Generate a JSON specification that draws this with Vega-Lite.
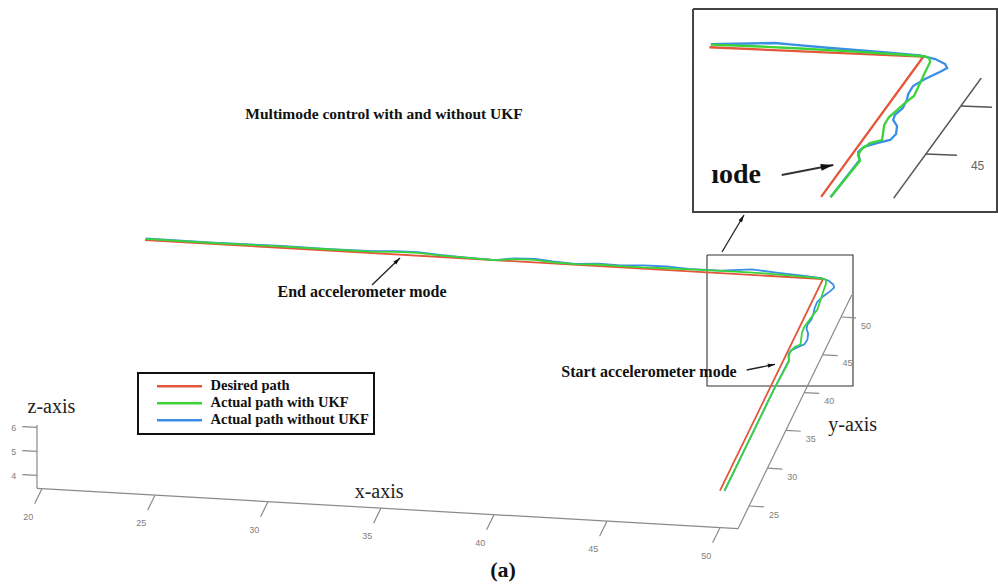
{
  "$schema": "https://vega.github.io/schema/vega-lite/v6.json",
  "width": 998,
  "height": 584,
  "autosize": "none",
  "padding": 0,
  "background": "white",
  "config": {
    "view": {"stroke": null},
    "legend": {
      "orient": "none",
      "legendX": 138,
      "legendY": 373,
      "direction": "vertical",
      "symbolType": "stroke",
      "symbolSize": 2025,
      "symbolStrokeWidth": 2.5,
      "clipHeight": 16.4,
      "symbolOffset": 12.5,
      "labelOffset": 7,
      "labelFont": "Liberation Serif",
      "labelFontWeight": "bold",
      "labelFontSize": 14.5,
      "labelColor": "#111",
      "labelLimit": 0,
      "padding": 5,
      "rowPadding": 0,
      "strokeColor": "#111",
      "strokeWidth": 2,
      "fillColor": "white"
    }
  },
  "datasets": {
    "paths": [
      {"s": "Desired path", "i": 0, "x": 20, "y": 50, "z": 5},
      {"s": "Desired path", "i": 1, "x": 45.45, "y": 50, "z": 5},
      {"s": "Desired path", "i": 2, "x": 50, "y": 50, "z": 5},
      {"s": "Desired path", "i": 3, "x": 50, "y": 35.4, "z": 5},
      {"s": "Desired path", "i": 4, "x": 50, "y": 22, "z": 5},

      {"s": "Actual path with UKF", "i": 0, "x": 20, "y": 50.15, "z": 5},
      {"s": "Actual path with UKF", "i": 1, "x": 23, "y": 50.12, "z": 5},
      {"s": "Actual path with UKF", "i": 2, "x": 26, "y": 50.18, "z": 5},
      {"s": "Actual path with UKF", "i": 3, "x": 28, "y": 50.15, "z": 5},
      {"s": "Actual path with UKF", "i": 4, "x": 30, "y": 50.18, "z": 5},
      {"s": "Actual path with UKF", "i": 5, "x": 31, "y": 50.32, "z": 5},
      {"s": "Actual path with UKF", "i": 6, "x": 32, "y": 50.35, "z": 5},
      {"s": "Actual path with UKF", "i": 7, "x": 33, "y": 50.2, "z": 5},
      {"s": "Actual path with UKF", "i": 8, "x": 34, "y": 50.12, "z": 5},
      {"s": "Actual path with UKF", "i": 9, "x": 35.5, "y": 50.0, "z": 5},
      {"s": "Actual path with UKF", "i": 10, "x": 36.3, "y": 50.28, "z": 5},
      {"s": "Actual path with UKF", "i": 11, "x": 37.2, "y": 50.32, "z": 5},
      {"s": "Actual path with UKF", "i": 12, "x": 38, "y": 50.15, "z": 5},
      {"s": "Actual path with UKF", "i": 13, "x": 39, "y": 50.07, "z": 5},
      {"s": "Actual path with UKF", "i": 14, "x": 40, "y": 50.2, "z": 5},
      {"s": "Actual path with UKF", "i": 15, "x": 41, "y": 50.15, "z": 5},
      {"s": "Actual path with UKF", "i": 16, "x": 42, "y": 50.15, "z": 5},
      {"s": "Actual path with UKF", "i": 17, "x": 43, "y": 50.22, "z": 5},
      {"s": "Actual path with UKF", "i": 18, "x": 44, "y": 50.25, "z": 5},
      {"s": "Actual path with UKF", "i": 19, "x": 45.44, "y": 50.28, "z": 5},
      {"s": "Actual path with UKF", "i": 20, "x": 46.48, "y": 50.3, "z": 5},
      {"s": "Actual path with UKF", "i": 21, "x": 47.34, "y": 50.28, "z": 5},
      {"s": "Actual path with UKF", "i": 22, "x": 48.41, "y": 50.2, "z": 5},
      {"s": "Actual path with UKF", "i": 23, "x": 49.49, "y": 50.12, "z": 5},
      {"s": "Actual path with UKF", "i": 24, "x": 50.03, "y": 50.03, "z": 5},
      {"s": "Actual path with UKF", "i": 25, "x": 50.14, "y": 49.89, "z": 5},
      {"s": "Actual path with UKF", "i": 26, "x": 50.22, "y": 49.5, "z": 5},
      {"s": "Actual path with UKF", "i": 27, "x": 50.27, "y": 48.46, "z": 5},
      {"s": "Actual path with UKF", "i": 28, "x": 50.33, "y": 47.33, "z": 5},
      {"s": "Actual path with UKF", "i": 29, "x": 50.4, "y": 45.99, "z": 5},
      {"s": "Actual path with UKF", "i": 30, "x": 50.32, "y": 45.25, "z": 5},
      {"s": "Actual path with UKF", "i": 31, "x": 50.26, "y": 44.5, "z": 5},
      {"s": "Actual path with UKF", "i": 32, "x": 50.2, "y": 43.76, "z": 5},
      {"s": "Actual path with UKF", "i": 33, "x": 50.22, "y": 42.93, "z": 5},
      {"s": "Actual path with UKF", "i": 34, "x": 50.33, "y": 42.02, "z": 5},
      {"s": "Actual path with UKF", "i": 35, "x": 50.4, "y": 41.41, "z": 5},
      {"s": "Actual path with UKF", "i": 36, "x": 50.2, "y": 41.05, "z": 5},
      {"s": "Actual path with UKF", "i": 37, "x": 50.12, "y": 40.41, "z": 5},
      {"s": "Actual path with UKF", "i": 38, "x": 50.13, "y": 39.79, "z": 5},
      {"s": "Actual path with UKF", "i": 39, "x": 50.26, "y": 39.19, "z": 5},
      {"s": "Actual path with UKF", "i": 40, "x": 50.2, "y": 35.4, "z": 5},
      {"s": "Actual path with UKF", "i": 41, "x": 50.2, "y": 22, "z": 5},

      {"s": "Actual path without UKF", "i": 0, "x": 20, "y": 50.2, "z": 5},
      {"s": "Actual path without UKF", "i": 1, "x": 23, "y": 50.18, "z": 5},
      {"s": "Actual path without UKF", "i": 2, "x": 26, "y": 50.25, "z": 5},
      {"s": "Actual path without UKF", "i": 3, "x": 28, "y": 50.2, "z": 5},
      {"s": "Actual path without UKF", "i": 4, "x": 30, "y": 50.25, "z": 5},
      {"s": "Actual path without UKF", "i": 5, "x": 31, "y": 50.42, "z": 5},
      {"s": "Actual path without UKF", "i": 6, "x": 32, "y": 50.45, "z": 5},
      {"s": "Actual path without UKF", "i": 7, "x": 33, "y": 50.25, "z": 5},
      {"s": "Actual path without UKF", "i": 8, "x": 34, "y": 50.15, "z": 5},
      {"s": "Actual path without UKF", "i": 9, "x": 35.5, "y": 50.0, "z": 5},
      {"s": "Actual path without UKF", "i": 10, "x": 36.3, "y": 50.38, "z": 5},
      {"s": "Actual path without UKF", "i": 11, "x": 37.2, "y": 50.45, "z": 5},
      {"s": "Actual path without UKF", "i": 12, "x": 38, "y": 50.25, "z": 5},
      {"s": "Actual path without UKF", "i": 13, "x": 39, "y": 50.12, "z": 5},
      {"s": "Actual path without UKF", "i": 14, "x": 40, "y": 50.3, "z": 5},
      {"s": "Actual path without UKF", "i": 15, "x": 41, "y": 50.25, "z": 5},
      {"s": "Actual path without UKF", "i": 16, "x": 42, "y": 50.42, "z": 5},
      {"s": "Actual path without UKF", "i": 17, "x": 43, "y": 50.45, "z": 5},
      {"s": "Actual path without UKF", "i": 18, "x": 44, "y": 50.3, "z": 5},
      {"s": "Actual path without UKF", "i": 19, "x": 45.43, "y": 50.33, "z": 5},
      {"s": "Actual path without UKF", "i": 20, "x": 46.23, "y": 50.56, "z": 5},
      {"s": "Actual path without UKF", "i": 21, "x": 46.74, "y": 50.72, "z": 5},
      {"s": "Actual path without UKF", "i": 22, "x": 47.07, "y": 50.64, "z": 5},
      {"s": "Actual path without UKF", "i": 23, "x": 47.95, "y": 50.46, "z": 5},
      {"s": "Actual path without UKF", "i": 24, "x": 49.04, "y": 50.28, "z": 5},
      {"s": "Actual path without UKF", "i": 25, "x": 49.91, "y": 50.11, "z": 5},
      {"s": "Actual path without UKF", "i": 26, "x": 50.28, "y": 49.82, "z": 5},
      {"s": "Actual path without UKF", "i": 27, "x": 50.56, "y": 49.36, "z": 5},
      {"s": "Actual path without UKF", "i": 28, "x": 50.66, "y": 48.97, "z": 5},
      {"s": "Actual path without UKF", "i": 29, "x": 50.57, "y": 48.53, "z": 5},
      {"s": "Actual path without UKF", "i": 30, "x": 50.37, "y": 47.76, "z": 5},
      {"s": "Actual path without UKF", "i": 31, "x": 50.23, "y": 47.0, "z": 5},
      {"s": "Actual path without UKF", "i": 32, "x": 50.25, "y": 46.17, "z": 5},
      {"s": "Actual path without UKF", "i": 33, "x": 50.31, "y": 45.56, "z": 5},
      {"s": "Actual path without UKF", "i": 34, "x": 50.35, "y": 44.73, "z": 5},
      {"s": "Actual path without UKF", "i": 35, "x": 50.29, "y": 43.99, "z": 5},
      {"s": "Actual path without UKF", "i": 36, "x": 50.33, "y": 43.48, "z": 5},
      {"s": "Actual path without UKF", "i": 37, "x": 50.5, "y": 42.89, "z": 5},
      {"s": "Actual path without UKF", "i": 38, "x": 50.6, "y": 42.08, "z": 5},
      {"s": "Actual path without UKF", "i": 39, "x": 50.57, "y": 41.45, "z": 5},
      {"s": "Actual path without UKF", "i": 40, "x": 50.36, "y": 41.09, "z": 5},
      {"s": "Actual path without UKF", "i": 41, "x": 50.13, "y": 40.62, "z": 5},
      {"s": "Actual path without UKF", "i": 42, "x": 50.09, "y": 40.09, "z": 5},
      {"s": "Actual path without UKF", "i": 43, "x": 50.24, "y": 39.3, "z": 5},
      {"s": "Actual path without UKF", "i": 44, "x": 50.2, "y": 35.4, "z": 5},
      {"s": "Actual path without UKF", "i": 45, "x": 50.2, "y": 22, "z": 5}
    ],
    "segs": [
      {"view": "main", "x": 19.78, "y": 22, "z": 3.46, "x2": 50.8, "y2": 22, "z2": 3.46},
      {"view": "main", "x": 50.8, "y": 22, "z": 3.46, "x2": 50.8, "y2": 52.9, "z2": 3.46},
      {"view": "main", "x": 19.78, "y": 22, "z": 3.46, "x2": 19.78, "y2": 22, "z2": 6.1},
      {"view": "main", "x": 20, "y": 22, "z": 3.46, "x2": 20, "y2": 20, "z2": 3.46},
      {"view": "main", "x": 25, "y": 22, "z": 3.46, "x2": 25, "y2": 20, "z2": 3.46},
      {"view": "main", "x": 30, "y": 22, "z": 3.46, "x2": 30, "y2": 20, "z2": 3.46},
      {"view": "main", "x": 35, "y": 22, "z": 3.46, "x2": 35, "y2": 20, "z2": 3.46},
      {"view": "main", "x": 40, "y": 22, "z": 3.46, "x2": 40, "y2": 20, "z2": 3.46},
      {"view": "main", "x": 45, "y": 22, "z": 3.46, "x2": 45, "y2": 20, "z2": 3.46},
      {"view": "main", "x": 50, "y": 22, "z": 3.46, "x2": 50, "y2": 20, "z2": 3.46},
      {"view": "main", "x": 50.8, "y": 25, "z": 3.46, "x2": 51.46, "y2": 25, "z2": 3.46},
      {"view": "main", "x": 50.8, "y": 30, "z": 3.46, "x2": 51.46, "y2": 30, "z2": 3.46},
      {"view": "main", "x": 50.8, "y": 35, "z": 3.46, "x2": 51.46, "y2": 35, "z2": 3.46},
      {"view": "main", "x": 50.8, "y": 40, "z": 3.46, "x2": 51.46, "y2": 40, "z2": 3.46},
      {"view": "main", "x": 50.8, "y": 45, "z": 3.46, "x2": 51.46, "y2": 45, "z2": 3.46},
      {"view": "main", "x": 50.8, "y": 50, "z": 3.46, "x2": 51.46, "y2": 50, "z2": 3.46},
      {"view": "main", "x": 19.78, "y": 22, "z": 4, "x2": 19.13, "y2": 22, "z2": 4},
      {"view": "main", "x": 19.78, "y": 22, "z": 5, "x2": 19.13, "y2": 22, "z2": 5},
      {"view": "main", "x": 19.78, "y": 22, "z": 6, "x2": 19.13, "y2": 22, "z2": 6},
      {"view": "inset", "x": 50.8, "y": 40.4, "z": 3.46, "x2": 50.8, "y2": 52.9, "z2": 3.46},
      {"view": "inset", "x": 50.8, "y": 45, "z": 3.46, "x2": 51.46, "y2": 45, "z2": 3.46},
      {"view": "inset", "x": 50.8, "y": 50, "z": 3.46, "x2": 51.46, "y2": 50, "z2": 3.46}
    ],
    "frames": [
      {"f": "box", "i": 0, "x": 44.504, "y": 52.23, "z": 5},
      {"f": "box", "i": 1, "x": 50.789, "y": 53.31, "z": 5},
      {"f": "box", "i": 2, "x": 53.533, "y": 36.454, "z": 5},
      {"f": "box", "i": 3, "x": 47.249, "y": 35.374, "z": 5},
      {"f": "box", "i": 4, "x": 44.504, "y": 52.23, "z": 5},
      {"f": "inset", "i": 0, "x": 44.537, "y": 53.785, "z": 5},
      {"f": "inset", "i": 1, "x": 50.802, "y": 55.142, "z": 5},
      {"f": "inset", "i": 2, "x": 53.853, "y": 34.659, "z": 5},
      {"f": "inset", "i": 3, "x": 47.587, "y": 33.302, "z": 5},
      {"f": "inset", "i": 4, "x": 44.537, "y": 53.785, "z": 5}
    ],
    "arrows": [
      {"view": "main", "x": 45.087, "y": 52.727, "z": 5, "x2": 45.259, "y2": 57.65, "z2": 5},
      {"view": "main", "x": 30.714, "y": 45.89, "z": 5, "x2": 31.353, "y2": 49.571, "z2": 5},
      {"view": "main", "x": 48.623, "y": 37.726, "z": 5, "x2": 49.721, "y2": 38.669, "z2": 5},
      {"view": "inset", "x": 48.859, "y": 37.431, "z": 5, "x2": 49.773, "y2": 38.671, "z2": 5}
    ],
    "notes": [
      {"k": "title", "t": "Multimode control with and without UKF", "x": 31.17, "y": 46.36, "z": 12},
      {"k": "annot", "t": "End accelerometer mode", "x": 30.43, "y": 44.92, "z": 5},
      {"k": "annot", "t": "Start accelerometer mode", "x": 44.453, "y": 36.784, "z": 5},
      {"k": "axis", "t": "x-axis", "x": 34.58, "y": 24.07, "z": 3.46},
      {"k": "axis", "t": "y-axis", "x": 53.56, "y": 36.2, "z": 3.46},
      {"k": "axis", "t": "z-axis", "x": 20.42, "y": 22, "z": 6.88},
      {"k": "caption", "t": "(a)", "x": 41.55, "y": 14.95, "z": 3.46},
      {"k": "inset", "t": "ıode", "x": 47.92, "y": 37.23, "z": 5},
      {"k": "tick", "t": "20", "x": 20, "y": 18.3, "z": 3.46},
      {"k": "tick", "t": "25", "x": 25, "y": 18.3, "z": 3.46},
      {"k": "tick", "t": "30", "x": 30, "y": 18.3, "z": 3.46},
      {"k": "tick", "t": "35", "x": 35, "y": 18.3, "z": 3.46},
      {"k": "tick", "t": "40", "x": 40, "y": 18.3, "z": 3.46},
      {"k": "tick", "t": "45", "x": 45, "y": 18.3, "z": 3.46},
      {"k": "tick", "t": "50", "x": 50, "y": 18.3, "z": 3.46},
      {"k": "tick", "t": "25", "x": 51.9, "y": 25, "z": 3.16},
      {"k": "tick", "t": "30", "x": 51.9, "y": 30, "z": 3.16},
      {"k": "tick", "t": "35", "x": 51.9, "y": 35, "z": 3.16},
      {"k": "tick", "t": "40", "x": 51.9, "y": 40, "z": 3.16},
      {"k": "tick", "t": "45", "x": 51.9, "y": 45, "z": 3.16},
      {"k": "tick", "t": "50", "x": 51.9, "y": 50, "z": 3.16},
      {"k": "tick", "t": "4", "x": 18.8, "y": 21.7, "z": 4},
      {"k": "tick", "t": "5", "x": 18.8, "y": 21.7, "z": 5},
      {"k": "tick", "t": "6", "x": 18.8, "y": 21.7, "z": 6},
      {"k": "itick", "t": "45", "x": 51.9, "y": 45, "z": 3.16}
    ]
  },
  "encoding": {
    "x": {"field": "u", "type": "quantitative", "scale": {"domain": [0, 998], "nice": false, "zero": false}, "axis": null},
    "y": {"field": "v", "type": "quantitative", "scale": {"domain": [0, 584], "reverse": true, "nice": false, "zero": false}, "axis": null}
  },
  "layer": [
    {
      "data": {"name": "frames"},
      "transform": [
        {"filter": "datum.f == 'box'"},
        {"calculate": "823 + 22.6*(datum.x-50) + 3.68*(datum.y-50)", "as": "u"},
        {"calculate": "279 + 1.3*(datum.x-50) - 7.56*(datum.y-50) - 24*(datum.z-5)", "as": "v"}
      ],
      "mark": {"type": "line", "stroke": "#333333", "strokeWidth": 1.1},
      "encoding": {"order": {"field": "i", "type": "quantitative"}}
    },
    {
      "data": {"name": "frames"},
      "transform": [
        {"filter": "datum.f == 'inset'"},
        {"calculate": "923.3 + 47*(datum.x-50) + 7*(datum.y-50)", "as": "u"},
        {"calculate": "56.7 + 2.08*(datum.x-50) - 9.6*(datum.y-50) - 30.9*(datum.z-5)", "as": "v"}
      ],
      "mark": {"type": "line", "stroke": "#444444", "strokeWidth": 2},
      "encoding": {"order": {"field": "i", "type": "quantitative"}}
    },
    {
      "data": {"name": "segs"},
      "transform": [
        {"filter": "datum.view == 'main'"},
        {"calculate": "823 + 22.6*(datum.x-50) + 3.68*(datum.y-50)", "as": "u"},
        {"calculate": "279 + 1.3*(datum.x-50) - 7.56*(datum.y-50) - 24*(datum.z-5)", "as": "v"},
        {"calculate": "823 + 22.6*(datum.x2-50) + 3.68*(datum.y2-50)", "as": "u2"},
        {"calculate": "279 + 1.3*(datum.x2-50) - 7.56*(datum.y2-50) - 24*(datum.z2-5)", "as": "v2"}
      ],
      "mark": {"type": "rule", "color": "#8a8a8a", "strokeWidth": 1.2},
      "encoding": {"x2": {"field": "u2"}, "y2": {"field": "v2"}}
    },
    {
      "data": {"name": "segs"},
      "transform": [
        {"filter": "datum.view == 'inset'"},
        {"calculate": "923.3 + 47*(datum.x-50) + 7*(datum.y-50)", "as": "u"},
        {"calculate": "56.7 + 2.08*(datum.x-50) - 9.6*(datum.y-50) - 30.9*(datum.z-5)", "as": "v"},
        {"calculate": "923.3 + 47*(datum.x2-50) + 7*(datum.y2-50)", "as": "u2"},
        {"calculate": "56.7 + 2.08*(datum.x2-50) - 9.6*(datum.y2-50) - 30.9*(datum.z2-5)", "as": "v2"}
      ],
      "mark": {"type": "rule", "color": "#555555", "strokeWidth": 1.6},
      "encoding": {"x2": {"field": "u2"}, "y2": {"field": "v2"}}
    },
    {
      "data": {"name": "paths"},
      "transform": [
        {"filter": "datum.s == 'Desired path'"},
        {"calculate": "823 + 22.6*(datum.x-50) + 3.68*(datum.y-50)", "as": "u"},
        {"calculate": "279 + 1.3*(datum.x-50) - 7.56*(datum.y-50) - 24*(datum.z-5)", "as": "v"}
      ],
      "mark": {"type": "line", "strokeWidth": 1.8},
      "encoding": {
        "order": {"field": "i", "type": "quantitative"},
        "color": {"field": "s", "type": "nominal", "scale": {"domain": ["Desired path", "Actual path with UKF", "Actual path without UKF"], "range": ["#e4563a", "#3ad43a", "#3a8ee6"]}, "legend": {"title": null}}
      }
    },
    {
      "data": {"name": "paths"},
      "transform": [
        {"filter": "datum.s == 'Actual path without UKF'"},
        {"calculate": "823 + 22.6*(datum.x-50) + 3.68*(datum.y-50)", "as": "u"},
        {"calculate": "279 + 1.3*(datum.x-50) - 7.56*(datum.y-50) - 24*(datum.z-5)", "as": "v"}
      ],
      "mark": {"type": "line", "strokeWidth": 1.8},
      "encoding": {
        "order": {"field": "i", "type": "quantitative"},
        "color": {"field": "s", "type": "nominal", "scale": {"domain": ["Desired path", "Actual path with UKF", "Actual path without UKF"], "range": ["#e4563a", "#3ad43a", "#3a8ee6"]}, "legend": {"title": null}}
      }
    },
    {
      "data": {"name": "paths"},
      "transform": [
        {"filter": "datum.s == 'Actual path with UKF'"},
        {"calculate": "823 + 22.6*(datum.x-50) + 3.68*(datum.y-50)", "as": "u"},
        {"calculate": "279 + 1.3*(datum.x-50) - 7.56*(datum.y-50) - 24*(datum.z-5)", "as": "v"}
      ],
      "mark": {"type": "line", "strokeWidth": 1.8},
      "encoding": {
        "order": {"field": "i", "type": "quantitative"},
        "color": {"field": "s", "type": "nominal", "scale": {"domain": ["Desired path", "Actual path with UKF", "Actual path without UKF"], "range": ["#e4563a", "#3ad43a", "#3a8ee6"]}, "legend": {"title": null}}
      }
    },
    {
      "data": {"name": "paths"},
      "transform": [
        {"filter": "datum.s == 'Desired path' && datum.x >= 45.4 && datum.y >= 35.35"},
        {"calculate": "923.3 + 47*(datum.x-50) + 7*(datum.y-50)", "as": "u"},
        {"calculate": "56.7 + 2.08*(datum.x-50) - 9.6*(datum.y-50) - 30.9*(datum.z-5)", "as": "v"}
      ],
      "mark": {"type": "line", "strokeWidth": 2.3},
      "encoding": {
        "order": {"field": "i", "type": "quantitative"},
        "color": {"field": "s", "type": "nominal", "scale": {"domain": ["Desired path", "Actual path with UKF", "Actual path without UKF"], "range": ["#e4563a", "#3ad43a", "#3a8ee6"]}, "legend": {"title": null}}
      }
    },
    {
      "data": {"name": "paths"},
      "transform": [
        {"filter": "datum.s == 'Actual path without UKF' && datum.x >= 45.4 && datum.y >= 35.35"},
        {"calculate": "923.3 + 47*(datum.x-50) + 7*(datum.y-50)", "as": "u"},
        {"calculate": "56.7 + 2.08*(datum.x-50) - 9.6*(datum.y-50) - 30.9*(datum.z-5)", "as": "v"}
      ],
      "mark": {"type": "line", "strokeWidth": 2.3},
      "encoding": {
        "order": {"field": "i", "type": "quantitative"},
        "color": {"field": "s", "type": "nominal", "scale": {"domain": ["Desired path", "Actual path with UKF", "Actual path without UKF"], "range": ["#e4563a", "#3ad43a", "#3a8ee6"]}, "legend": {"title": null}}
      }
    },
    {
      "data": {"name": "paths"},
      "transform": [
        {"filter": "datum.s == 'Actual path with UKF' && datum.x >= 45.4 && datum.y >= 35.35"},
        {"calculate": "923.3 + 47*(datum.x-50) + 7*(datum.y-50)", "as": "u"},
        {"calculate": "56.7 + 2.08*(datum.x-50) - 9.6*(datum.y-50) - 30.9*(datum.z-5)", "as": "v"}
      ],
      "mark": {"type": "line", "strokeWidth": 2.3},
      "encoding": {
        "order": {"field": "i", "type": "quantitative"},
        "color": {"field": "s", "type": "nominal", "scale": {"domain": ["Desired path", "Actual path with UKF", "Actual path without UKF"], "range": ["#e4563a", "#3ad43a", "#3a8ee6"]}, "legend": {"title": null}}
      }
    },
    {
      "data": {"name": "arrows"},
      "transform": [
        {"filter": "datum.view == 'main'"},
        {"calculate": "823 + 22.6*(datum.x-50) + 3.68*(datum.y-50)", "as": "u"},
        {"calculate": "279 + 1.3*(datum.x-50) - 7.56*(datum.y-50) - 24*(datum.z-5)", "as": "v"},
        {"calculate": "823 + 22.6*(datum.x2-50) + 3.68*(datum.y2-50)", "as": "u2"},
        {"calculate": "279 + 1.3*(datum.x2-50) - 7.56*(datum.y2-50) - 24*(datum.z2-5)", "as": "v2"}
      ],
      "mark": {"type": "rule", "color": "#222222", "strokeWidth": 1.3},
      "encoding": {"x2": {"field": "u2"}, "y2": {"field": "v2"}}
    },
    {
      "data": {"name": "arrows"},
      "transform": [
        {"filter": "datum.view == 'main'"},
        {"calculate": "823 + 22.6*(datum.x-50) + 3.68*(datum.y-50)", "as": "u0"},
        {"calculate": "279 + 1.3*(datum.x-50) - 7.56*(datum.y-50) - 24*(datum.z-5)", "as": "v0"},
        {"calculate": "823 + 22.6*(datum.x2-50) + 3.68*(datum.y2-50)", "as": "u"},
        {"calculate": "279 + 1.3*(datum.x2-50) - 7.56*(datum.y2-50) - 24*(datum.z2-5)", "as": "v"},
        {"calculate": "atan2(datum.u - datum.u0, -(datum.v - datum.v0)) * 180 / PI", "as": "ang"}
      ],
      "mark": {"type": "point", "shape": "M0,0L0.5,1.8L-0.5,1.8Z", "filled": true, "color": "#111111", "size": 64, "opacity": 1},
      "encoding": {"angle": {"field": "ang", "type": "quantitative", "scale": null}}
    },
    {
      "data": {"name": "arrows"},
      "transform": [
        {"filter": "datum.view == 'inset'"},
        {"calculate": "923.3 + 47*(datum.x-50) + 7*(datum.y-50)", "as": "u"},
        {"calculate": "56.7 + 2.08*(datum.x-50) - 9.6*(datum.y-50) - 30.9*(datum.z-5)", "as": "v"},
        {"calculate": "923.3 + 47*(datum.x2-50) + 7*(datum.y2-50)", "as": "u2"},
        {"calculate": "56.7 + 2.08*(datum.x2-50) - 9.6*(datum.y2-50) - 30.9*(datum.z2-5)", "as": "v2"}
      ],
      "mark": {"type": "rule", "color": "#333333", "strokeWidth": 2},
      "encoding": {"x2": {"field": "u2"}, "y2": {"field": "v2"}}
    },
    {
      "data": {"name": "arrows"},
      "transform": [
        {"filter": "datum.view == 'inset'"},
        {"calculate": "923.3 + 47*(datum.x-50) + 7*(datum.y-50)", "as": "u0"},
        {"calculate": "56.7 + 2.08*(datum.x-50) - 9.6*(datum.y-50) - 30.9*(datum.z-5)", "as": "v0"},
        {"calculate": "923.3 + 47*(datum.x2-50) + 7*(datum.y2-50)", "as": "u"},
        {"calculate": "56.7 + 2.08*(datum.x2-50) - 9.6*(datum.y2-50) - 30.9*(datum.z2-5)", "as": "v"},
        {"calculate": "atan2(datum.u - datum.u0, -(datum.v - datum.v0)) * 180 / PI", "as": "ang"}
      ],
      "mark": {"type": "point", "shape": "M0,0L0.5,1.8L-0.5,1.8Z", "filled": true, "color": "#111111", "size": 196, "opacity": 1},
      "encoding": {"angle": {"field": "ang", "type": "quantitative", "scale": null}}
    },
    {
      "data": {"name": "notes"},
      "transform": [
        {"filter": "datum.k == 'tick'"},
        {"calculate": "823 + 22.6*(datum.x-50) + 3.68*(datum.y-50)", "as": "u"},
        {"calculate": "279 + 1.3*(datum.x-50) - 7.56*(datum.y-50) - 24*(datum.z-5)", "as": "v"}
      ],
      "mark": {"type": "text", "font": "Liberation Sans", "fontSize": 9, "color": "#808080", "align": "center", "baseline": "middle"},
      "encoding": {"text": {"field": "t"}}
    },
    {
      "data": {"name": "notes"},
      "transform": [
        {"filter": "datum.k == 'itick'"},
        {"calculate": "923.3 + 47*(datum.x-50) + 7*(datum.y-50)", "as": "u"},
        {"calculate": "56.7 + 2.08*(datum.x-50) - 9.6*(datum.y-50) - 30.9*(datum.z-5)", "as": "v"}
      ],
      "mark": {"type": "text", "font": "Liberation Sans", "fontSize": 12, "color": "#666666", "align": "center", "baseline": "middle"},
      "encoding": {"text": {"field": "t"}}
    },
    {
      "data": {"name": "notes"},
      "transform": [
        {"filter": "datum.k == 'title'"},
        {"calculate": "823 + 22.6*(datum.x-50) + 3.68*(datum.y-50)", "as": "u"},
        {"calculate": "279 + 1.3*(datum.x-50) - 7.56*(datum.y-50) - 24*(datum.z-5)", "as": "v"}
      ],
      "mark": {"type": "text", "font": "Liberation Serif", "fontWeight": "bold", "fontSize": 15.5, "color": "#111111", "align": "center", "baseline": "middle"},
      "encoding": {"text": {"field": "t"}}
    },
    {
      "data": {"name": "notes"},
      "transform": [
        {"filter": "datum.k == 'annot'"},
        {"calculate": "823 + 22.6*(datum.x-50) + 3.68*(datum.y-50)", "as": "u"},
        {"calculate": "279 + 1.3*(datum.x-50) - 7.56*(datum.y-50) - 24*(datum.z-5)", "as": "v"}
      ],
      "mark": {"type": "text", "font": "Liberation Serif", "fontWeight": "bold", "fontSize": 16, "color": "#111111", "align": "center", "baseline": "middle"},
      "encoding": {"text": {"field": "t"}}
    },
    {
      "data": {"name": "notes"},
      "transform": [
        {"filter": "datum.k == 'axis'"},
        {"calculate": "823 + 22.6*(datum.x-50) + 3.68*(datum.y-50)", "as": "u"},
        {"calculate": "279 + 1.3*(datum.x-50) - 7.56*(datum.y-50) - 24*(datum.z-5)", "as": "v"}
      ],
      "mark": {"type": "text", "font": "Liberation Serif", "fontSize": 20, "color": "#222222", "align": "center", "baseline": "middle"},
      "encoding": {"text": {"field": "t"}}
    },
    {
      "data": {"name": "notes"},
      "transform": [
        {"filter": "datum.k == 'caption'"},
        {"calculate": "823 + 22.6*(datum.x-50) + 3.68*(datum.y-50)", "as": "u"},
        {"calculate": "279 + 1.3*(datum.x-50) - 7.56*(datum.y-50) - 24*(datum.z-5)", "as": "v"}
      ],
      "mark": {"type": "text", "font": "Liberation Serif", "fontWeight": "bold", "fontSize": 22, "color": "#111111", "align": "center", "baseline": "middle"},
      "encoding": {"text": {"field": "t"}}
    },
    {
      "data": {"name": "notes"},
      "transform": [
        {"filter": "datum.k == 'inset'"},
        {"calculate": "923.3 + 47*(datum.x-50) + 7*(datum.y-50)", "as": "u"},
        {"calculate": "56.7 + 2.08*(datum.x-50) - 9.6*(datum.y-50) - 30.9*(datum.z-5)", "as": "v"}
      ],
      "mark": {"type": "text", "font": "Liberation Serif", "fontWeight": "bold", "fontSize": 28, "color": "#111111", "align": "center", "baseline": "middle"},
      "encoding": {"text": {"field": "t"}}
    }
  ]
}
